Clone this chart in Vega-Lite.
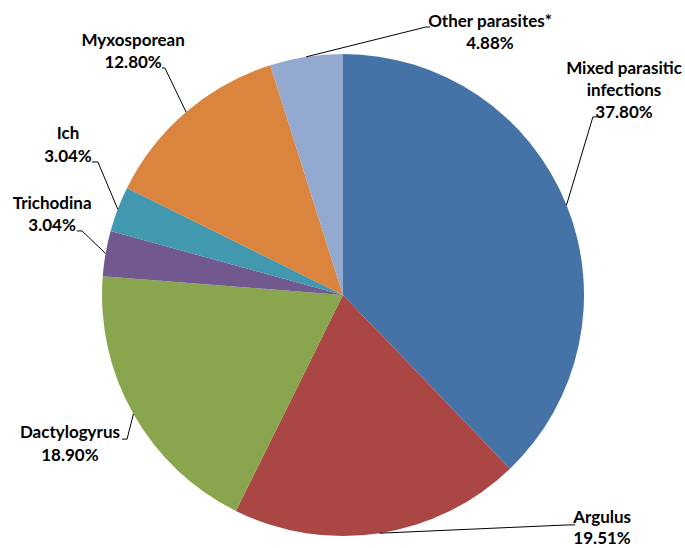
{
  "$schema": "https://vega.github.io/schema/vega-lite/v6.json",
  "width": 685,
  "height": 548,
  "autosize": {"type": "none"},
  "padding": 0,
  "background": "white",
  "config": {"view": {"stroke": null}},
  "data": {"values": [
    {"name": "Mixed parasitic infections", "pct": 37.80},
    {"name": "Argulus", "pct": 19.51},
    {"name": "Dactylogyrus", "pct": 18.90},
    {"name": "Trichodina", "pct": 3.04},
    {"name": "Ich", "pct": 3.04},
    {"name": "Myxosporean", "pct": 12.80},
    {"name": "Other parasites*", "pct": 4.88}
  ]},
  "transform": [
    {"window": [{"op": "row_number", "as": "idx"}, {"op": "sum", "field": "pct", "as": "cum"}]},
    {"joinaggregate": [{"op": "sum", "field": "pct", "as": "total"}]},
    {"calculate": "2*PI*(datum.cum - datum.pct/2)/datum.total", "as": "mid"},
    {"calculate": "sin(datum.mid)", "as": "ex"},
    {"calculate": "cos(datum.mid)", "as": "ey"},
    {"calculate": "replace(datum.name, 'parasitic ', 'parasitic\\n') + '\\n' + format(datum.pct, '.2f') + '%'", "as": "label"}
  ],
  "layer": [
    {
      "mark": {"type": "arc", "outerRadius": 241},
      "encoding": {
        "theta": {"field": "pct", "type": "quantitative", "stack": true},
        "order": {"field": "idx", "type": "quantitative"},
        "color": {"field": "name", "type": "nominal", "legend": null,
          "scale": {"domain": ["Mixed parasitic infections", "Argulus", "Dactylogyrus", "Trichodina", "Ich", "Myxosporean", "Other parasites*"],
                    "range": ["#4572A7", "#AA4643", "#89A54E", "#71588F", "#4198AF", "#DB843D", "#93A9CF"]}},
        "x": {"datum": 0, "type": "quantitative", "axis": null, "scale": {"domain": [-1.4232, 1.4191], "nice": false, "zero": false}},
        "y": {"datum": 0, "type": "quantitative", "axis": null, "scale": {"domain": [-1.0498, 1.2241], "nice": false, "zero": false}}
      }
    },
    {
      "transform": [{"filter": "datum.name == 'Other parasites*'"}],
      "layer": [
        {"mark": {"type": "rule", "color": "#000", "strokeWidth": 1},
         "encoding": {"x": {"field": "ex", "type": "quantitative", "axis": null, "scale": {"domain": [-1.4232, 1.4191], "nice": false, "zero": false}},
                      "y": {"field": "ey", "type": "quantitative", "axis": null, "scale": {"domain": [-1.0498, 1.2241], "nice": false, "zero": false}},
                      "x2": {"datum": 0.344}, "y2": {"datum": 1.112}}},
        {"mark": {"type": "rule", "color": "#000", "strokeWidth": 1},
         "encoding": {"x": {"datum": 0.344, "type": "quantitative", "axis": null, "scale": {"domain": [-1.4232, 1.4191], "nice": false, "zero": false}},
                      "y": {"datum": 1.112, "type": "quantitative", "axis": null, "scale": {"domain": [-1.0498, 1.2241], "nice": false, "zero": false}},
                      "x2": {"datum": 0.361}, "y2": {"datum": 1.112}}},
        {"mark": {"type": "text", "font": "Lato", "fontWeight": "bold", "fontSize": 17, "lineHeight": 22.5, "lineBreak": "\n", "align": "center", "baseline": "middle", "color": "#000"},
         "encoding": {"text": {"field": "label"},
                      "x": {"datum": 0.610, "type": "quantitative", "axis": null, "scale": {"domain": [-1.4232, 1.4191], "nice": false, "zero": false}},
                      "y": {"datum": 1.133, "type": "quantitative", "axis": null, "scale": {"domain": [-1.0498, 1.2241], "nice": false, "zero": false}}}}
      ]
    },
    {
      "transform": [{"filter": "datum.name == 'Mixed parasitic infections'"}],
      "layer": [
        {"mark": {"type": "rule", "color": "#000", "strokeWidth": 1},
         "encoding": {"x": {"field": "ex", "type": "quantitative", "axis": null, "scale": {"domain": [-1.4232, 1.4191], "nice": false, "zero": false}},
                      "y": {"field": "ey", "type": "quantitative", "axis": null, "scale": {"domain": [-1.0498, 1.2241], "nice": false, "zero": false}},
                      "x2": {"datum": 1.037}, "y2": {"datum": 0.739}}},
        {"mark": {"type": "rule", "color": "#000", "strokeWidth": 1},
         "encoding": {"x": {"datum": 1.037, "type": "quantitative", "axis": null, "scale": {"domain": [-1.4232, 1.4191], "nice": false, "zero": false}},
                      "y": {"datum": 0.739, "type": "quantitative", "axis": null, "scale": {"domain": [-1.0498, 1.2241], "nice": false, "zero": false}},
                      "x2": {"datum": 1.054}, "y2": {"datum": 0.739}}},
        {"mark": {"type": "text", "font": "Lato", "fontWeight": "bold", "fontSize": 17, "lineHeight": 22, "lineBreak": "\n", "align": "center", "baseline": "middle", "color": "#000"},
         "encoding": {"text": {"field": "label"},
                      "x": {"datum": 1.166, "type": "quantitative", "axis": null, "scale": {"domain": [-1.4232, 1.4191], "nice": false, "zero": false}},
                      "y": {"datum": 0.938, "type": "quantitative", "axis": null, "scale": {"domain": [-1.0498, 1.2241], "nice": false, "zero": false}}}}
      ]
    },
    {
      "transform": [{"filter": "datum.name == 'Argulus'"}],
      "layer": [
        {"mark": {"type": "rule", "color": "#000", "strokeWidth": 1},
         "encoding": {"x": {"field": "ex", "type": "quantitative", "axis": null, "scale": {"domain": [-1.4232, 1.4191], "nice": false, "zero": false}},
                      "y": {"field": "ey", "type": "quantitative", "axis": null, "scale": {"domain": [-1.0498, 1.2241], "nice": false, "zero": false}},
                      "x2": {"datum": 0.934}, "y2": {"datum": -0.954}}},
        {"mark": {"type": "rule", "color": "#000", "strokeWidth": 1},
         "encoding": {"x": {"datum": 0.934, "type": "quantitative", "axis": null, "scale": {"domain": [-1.4232, 1.4191], "nice": false, "zero": false}},
                      "y": {"datum": -0.954, "type": "quantitative", "axis": null, "scale": {"domain": [-1.0498, 1.2241], "nice": false, "zero": false}},
                      "x2": {"datum": 0.963}, "y2": {"datum": -0.954}}},
        {"mark": {"type": "text", "font": "Lato", "fontWeight": "bold", "fontSize": 17, "lineHeight": 21, "lineBreak": "\n", "align": "center", "baseline": "middle", "color": "#000"},
         "encoding": {"text": {"field": "label"},
                      "x": {"datum": 1.075, "type": "quantitative", "axis": null, "scale": {"domain": [-1.4232, 1.4191], "nice": false, "zero": false}},
                      "y": {"datum": -0.925, "type": "quantitative", "axis": null, "scale": {"domain": [-1.0498, 1.2241], "nice": false, "zero": false}}}}
      ]
    },
    {
      "transform": [{"filter": "datum.name == 'Dactylogyrus'"}],
      "layer": [
        {"mark": {"type": "rule", "color": "#000", "strokeWidth": 1},
         "encoding": {"x": {"field": "ex", "type": "quantitative", "axis": null, "scale": {"domain": [-1.4232, 1.4191], "nice": false, "zero": false}},
                      "y": {"field": "ey", "type": "quantitative", "axis": null, "scale": {"domain": [-1.0498, 1.2241], "nice": false, "zero": false}},
                      "x2": {"datum": -0.896}, "y2": {"datum": -0.598}}},
        {"mark": {"type": "rule", "color": "#000", "strokeWidth": 1},
         "encoding": {"x": {"datum": -0.896, "type": "quantitative", "axis": null, "scale": {"domain": [-1.4232, 1.4191], "nice": false, "zero": false}},
                      "y": {"datum": -0.598, "type": "quantitative", "axis": null, "scale": {"domain": [-1.0498, 1.2241], "nice": false, "zero": false}},
                      "x2": {"datum": -0.917}, "y2": {"datum": -0.598}}},
        {"mark": {"type": "text", "font": "Lato", "fontWeight": "bold", "fontSize": 17, "lineHeight": 22.5, "lineBreak": "\n", "align": "center", "baseline": "middle", "color": "#000"},
         "encoding": {"text": {"field": "label"},
                      "x": {"datum": -1.133, "type": "quantitative", "axis": null, "scale": {"domain": [-1.4232, 1.4191], "nice": false, "zero": false}},
                      "y": {"datum": -0.573, "type": "quantitative", "axis": null, "scale": {"domain": [-1.0498, 1.2241], "nice": false, "zero": false}}}}
      ]
    },
    {
      "transform": [{"filter": "datum.name == 'Trichodina'"}],
      "layer": [
        {"mark": {"type": "rule", "color": "#000", "strokeWidth": 1},
         "encoding": {"x": {"field": "ex", "type": "quantitative", "axis": null, "scale": {"domain": [-1.4232, 1.4191], "nice": false, "zero": false}},
                      "y": {"field": "ey", "type": "quantitative", "axis": null, "scale": {"domain": [-1.0498, 1.2241], "nice": false, "zero": false}},
                      "x2": {"datum": -1.083}, "y2": {"datum": 0.266}}},
        {"mark": {"type": "rule", "color": "#000", "strokeWidth": 1},
         "encoding": {"x": {"datum": -1.083, "type": "quantitative", "axis": null, "scale": {"domain": [-1.4232, 1.4191], "nice": false, "zero": false}},
                      "y": {"datum": 0.266, "type": "quantitative", "axis": null, "scale": {"domain": [-1.0498, 1.2241], "nice": false, "zero": false}},
                      "x2": {"datum": -1.104}, "y2": {"datum": 0.266}}},
        {"mark": {"type": "text", "font": "Lato", "fontWeight": "bold", "fontSize": 17, "lineHeight": 22.5, "lineBreak": "\n", "align": "center", "baseline": "middle", "color": "#000"},
         "encoding": {"text": {"field": "label"},
                      "x": {"datum": -1.207, "type": "quantitative", "axis": null, "scale": {"domain": [-1.4232, 1.4191], "nice": false, "zero": false}},
                      "y": {"datum": 0.378, "type": "quantitative", "axis": null, "scale": {"domain": [-1.0498, 1.2241], "nice": false, "zero": false}}}}
      ]
    },
    {
      "transform": [{"filter": "datum.name == 'Ich'"}],
      "layer": [
        {"mark": {"type": "rule", "color": "#000", "strokeWidth": 1},
         "encoding": {"x": {"field": "ex", "type": "quantitative", "axis": null, "scale": {"domain": [-1.4232, 1.4191], "nice": false, "zero": false}},
                      "y": {"field": "ey", "type": "quantitative", "axis": null, "scale": {"domain": [-1.0498, 1.2241], "nice": false, "zero": false}},
                      "x2": {"datum": -1.017}, "y2": {"datum": 0.552}}},
        {"mark": {"type": "rule", "color": "#000", "strokeWidth": 1},
         "encoding": {"x": {"datum": -1.017, "type": "quantitative", "axis": null, "scale": {"domain": [-1.4232, 1.4191], "nice": false, "zero": false}},
                      "y": {"datum": 0.552, "type": "quantitative", "axis": null, "scale": {"domain": [-1.0498, 1.2241], "nice": false, "zero": false}},
                      "x2": {"datum": -1.041}, "y2": {"datum": 0.552}}},
        {"mark": {"type": "text", "font": "Lato", "fontWeight": "bold", "fontSize": 17, "lineHeight": 22.5, "lineBreak": "\n", "align": "center", "baseline": "middle", "color": "#000"},
         "encoding": {"text": {"field": "label"},
                      "x": {"datum": -1.141, "type": "quantitative", "axis": null, "scale": {"domain": [-1.4232, 1.4191], "nice": false, "zero": false}},
                      "y": {"datum": 0.668, "type": "quantitative", "axis": null, "scale": {"domain": [-1.0498, 1.2241], "nice": false, "zero": false}}}}
      ]
    },
    {
      "transform": [{"filter": "datum.name == 'Myxosporean'"}],
      "layer": [
        {"mark": {"type": "rule", "color": "#000", "strokeWidth": 1},
         "encoding": {"x": {"field": "ex", "type": "quantitative", "axis": null, "scale": {"domain": [-1.4232, 1.4191], "nice": false, "zero": false}},
                      "y": {"field": "ey", "type": "quantitative", "axis": null, "scale": {"domain": [-1.0498, 1.2241], "nice": false, "zero": false}},
                      "x2": {"datum": -0.739}, "y2": {"datum": 0.942}}},
        {"mark": {"type": "rule", "color": "#000", "strokeWidth": 1},
         "encoding": {"x": {"datum": -0.739, "type": "quantitative", "axis": null, "scale": {"domain": [-1.4232, 1.4191], "nice": false, "zero": false}},
                      "y": {"datum": 0.942, "type": "quantitative", "axis": null, "scale": {"domain": [-1.0498, 1.2241], "nice": false, "zero": false}},
                      "x2": {"datum": -0.751}, "y2": {"datum": 0.942}}},
        {"mark": {"type": "text", "font": "Lato", "fontWeight": "bold", "fontSize": 17, "lineHeight": 22.5, "lineBreak": "\n", "align": "center", "baseline": "middle", "color": "#000"},
         "encoding": {"text": {"field": "label"},
                      "x": {"datum": -0.871, "type": "quantitative", "axis": null, "scale": {"domain": [-1.4232, 1.4191], "nice": false, "zero": false}},
                      "y": {"datum": 1.054, "type": "quantitative", "axis": null, "scale": {"domain": [-1.0498, 1.2241], "nice": false, "zero": false}}}}
      ]
    }
  ]
}
